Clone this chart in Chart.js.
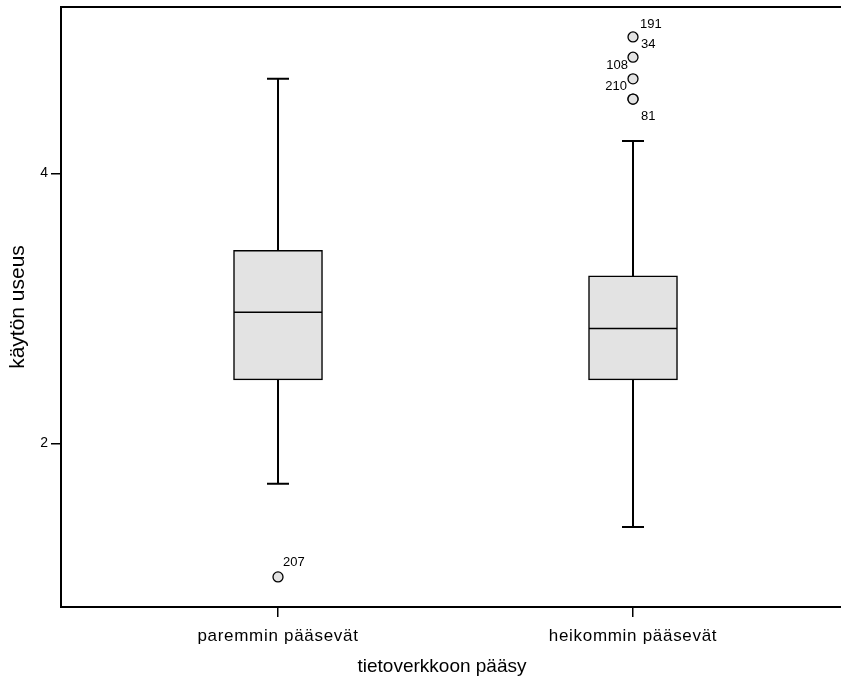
<!DOCTYPE html>
<html>
<head>
<meta charset="utf-8">
<script src="https://cdn.jsdelivr.net/npm/chart.js@4/dist/chart.umd.min.js"></script>
<style>
  html, body { margin: 0; padding: 0; background: #fff; }
  #wrap { width: 841px; height: 680px; }
</style>
</head>
<body>
<div id="wrap"><canvas id="boxChart" width="841" height="680"></canvas></div>
<script>
// --- 1. Data ---
const categories = ['paremmin pääsevät', 'heikommin pääsevät'];
const whiskerLow  = [1.70, 1.38];
const q1          = [2.47, 2.47];
const median      = [2.97, 2.85];
const q3          = [3.43, 3.24];
const whiskerHigh = [4.70, 4.24];

// outliers: group (1 = first box), value, case number
const outlierGroup = [1, 2, 2, 2, 2, 2];
const outlierValue = [1.01, 5.01, 4.86, 4.70, 4.55, 4.55];
const outlierCase  = ['207', '191', '34', '108', '210', '81'];

const yTicks = [2, 4];

// --- 2. Box drawing helpers ---
const FONT = "'Liberation Sans', Arial, sans-serif";
const boxPlugin = {
    id: 'boxParts',
    afterLayout(chart) {
        // category labels are drawn a little spread out, like the original
        const xs = chart.scales.x;
        if (!xs || xs._spaced) return;
        const orig = xs.drawLabels.bind(xs);
        xs.drawLabels = function (area) {
            this.ctx.save();
            this.ctx.letterSpacing = '0.7px';
            orig(area);
            this.ctx.restore();
        };
        xs._spaced = true;
    },
    beforeDatasetsDraw(chart) {
        const { ctx, scales: { x, y } } = chart;
        ctx.save();
        ctx.strokeStyle = '#000';
        ctx.lineWidth = 2;
        categories.forEach((c, i) => {
            const cx = x.getPixelForValue(i + 1);
            const pairs = [[q3[i], whiskerHigh[i]], [q1[i], whiskerLow[i]]];
            pairs.forEach(([a, b]) => {
                ctx.beginPath();
                ctx.moveTo(cx, y.getPixelForValue(a));
                ctx.lineTo(cx, y.getPixelForValue(b));
                ctx.moveTo(cx - 11, y.getPixelForValue(b));
                ctx.lineTo(cx + 11, y.getPixelForValue(b));
                ctx.stroke();
            });
        });
        ctx.restore();
    },
    afterDatasetsDraw(chart) {
        const { ctx, scales: { x, y } } = chart;
        ctx.save();
        ctx.strokeStyle = '#000';
        ctx.lineWidth = 1.5;
        categories.forEach((c, i) => {
            const cx = x.getPixelForValue(i + 1);
            const my = y.getPixelForValue(median[i]);
            ctx.beginPath();
            ctx.moveTo(cx - 44, my);
            ctx.lineTo(cx + 44, my);
            ctx.stroke();
        });

        // case labels next to the outlier circles
        const place = chart.options.plugins.boxParts.labelPlace;
        ctx.fillStyle = '#000';
        ctx.font = '13px ' + FONT;
        ctx.textBaseline = 'middle';
        outlierCase.forEach((label, i) => {
            const px = x.getPixelForValue(outlierGroup[i]);
            const py = y.getPixelForValue(outlierValue[i]);
            const p = place[i];
            ctx.textAlign = p[0] < 0 ? 'right' : 'left';
            ctx.fillText(label, px + p[0], py + p[1]);
        });
        ctx.restore();
    },
    afterDraw(chart) {
        // top and bottom frame lines run to the right edge
        const { ctx, chartArea } = chart;
        ctx.save();
        ctx.strokeStyle = '#000';
        ctx.lineWidth = 2;
        ctx.beginPath();
        ctx.moveTo(chartArea.left - 1, chartArea.top);
        ctx.lineTo(chart.width, chartArea.top);
        ctx.moveTo(chartArea.left - 1, chartArea.bottom);
        ctx.lineTo(chart.width, chartArea.bottom);
        ctx.stroke();
        ctx.restore();
    }
};

// --- 3. Chart ---
const ctx = document.getElementById('boxChart').getContext('2d');
const boxChart = new Chart(ctx, {
    type: 'bar',
    data: {
        datasets: [
            {
                label: 'box',
                data: categories.map((c, i) => ({ x: i + 1, y: [q1[i], q3[i]] })),
                backgroundColor: '#e3e3e3',
                borderColor: '#000',
                borderWidth: 1.5,
                borderSkipped: false,
                barThickness: 89
            },
            {
                type: 'scatter',
                label: 'outliers',
                data: outlierValue.map((v, i) => ({ x: outlierGroup[i], y: v })),
                pointRadius: 5,
                pointBackgroundColor: '#e3e3e3',
                pointBorderColor: '#000',
                pointBorderWidth: 1.3
            }
        ]
    },
    options: {
        responsive: false,
        animation: false,
        layout: { padding: { top: 7, right: 18, left: 0, bottom: 0 } },
        scales: {
            x: {
                type: 'linear',
                offset: false,
                min: 0.3887, max: 2.5352,
                afterBuildTicks: (s) => { s.ticks = categories.map((c, i) => ({ value: i + 1 })); },
                afterFit: (s) => { s.height = 73; s.paddingLeft = 0; s.paddingRight = 0; },
                border: { display: false },
                grid: { offset: false, drawOnChartArea: false, drawTicks: true, tickLength: 10, color: '#000', lineWidth: 1.5 },
                ticks: {
                    color: '#000', padding: 9, maxRotation: 0, autoSkip: false,
                    font: { family: FONT, size: 17 },
                    callback: (v) => categories[v - 1]
                },
                title: {
                    display: true, text: 'tietoverkkoon pääsy', color: '#000',
                    font: { family: FONT, size: 19 }, padding: { top: 0, bottom: 2 }
                }
            },
            y: {
                min: 0.787, max: 5.232,
                afterBuildTicks: (s) => { s.ticks = yTicks.map(v => ({ value: v })); },
                afterFit: (s) => { s.width = 61; s.paddingTop = 0; s.paddingBottom = 0; },
                border: { display: true, color: '#000', width: 2 },
                grid: { drawOnChartArea: false, drawTicks: true, tickLength: 10, color: '#000', lineWidth: 1.5 },
                ticks: { color: '#000', padding: 3, font: { family: FONT, size: 14 } },
                title: {
                    display: true, text: 'käytön useus', color: '#000',
                    font: { family: FONT, size: 21 }, padding: { top: 6, bottom: 0 }
                }
            }
        },
        plugins: {
            legend: { display: false },
            tooltip: { enabled: false },
            boxParts: {
                labelPlace: [[5, -14], [7, -13], [8, -13], [-5, -13], [-6, -13], [8, 17]]
            }
        }
    },
    plugins: [boxPlugin]
});
</script>
</body>
</html>
